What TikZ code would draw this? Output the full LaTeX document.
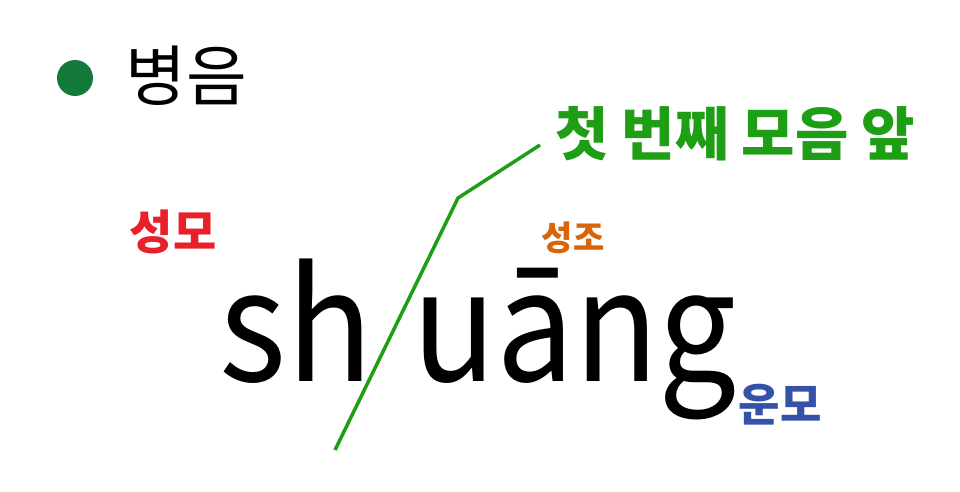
\documentclass[tikz,border=0pt]{standalone}
\usepackage{fontspec}
\setmainfont{Noto Sans CJK KR}
\newfontfamily\kr{Noto Sans CJK KR}
\definecolor{dotgreen}{HTML}{147A3C}
\definecolor{hgreen}{HTML}{1E9E14}
\definecolor{hred}{HTML}{E8202A}
\definecolor{horange}{HTML}{D9650A}
\definecolor{hblue}{HTML}{3452A8}
\begin{document}
\begin{tikzpicture}[x=1pt,y=-1pt,
  lbl/.style={inner sep=0pt, font=\kr},
  big/.style={inner sep=0pt, anchor=base west, text height=0.55em, text depth=0pt, font=\kr\fontsize{154}{154}\selectfont},
  ]
\useasboundingbox[fill=white] (0,0) rectangle (960,492);
\fill[dotgreen] (75,78) circle (18);
\node[lbl, anchor=center, font=\kr\fontsize{66}{66}\selectfont] (title) at (186,76) {병음};
\node[lbl, text=hgreen, font=\kr\bfseries\fontsize{58}{58}\selectfont] (vowel) at (735,134) {첫 번째 모음 앞};
\node[lbl, text=hred, font=\kr\bfseries\fontsize{47}{47}\selectfont] (initial) at (173,232) {성모};
\node[lbl, text=horange, font=\kr\bfseries\fontsize{34}{34}\selectfont] (tone) at (573,238) {성조};
\node[lbl, text=hblue, font=\kr\bfseries\fontsize{45}{45}\selectfont] (final) at (780,405) {운모};
\node[big] (sh) at (219,381) {\scalebox{0.93}[1]{sh}};
\node[big] (uang) at (412,381) {\scalebox{0.9}[1]{uāng}};
\coordinate (p1) at (335,450);
\coordinate (p2) at (458,198);
\coordinate (p3) at (540,145);
\draw[hgreen, line width=3.5pt] (p1) -- (p2) -- (p3);
\end{tikzpicture}
\end{document}
